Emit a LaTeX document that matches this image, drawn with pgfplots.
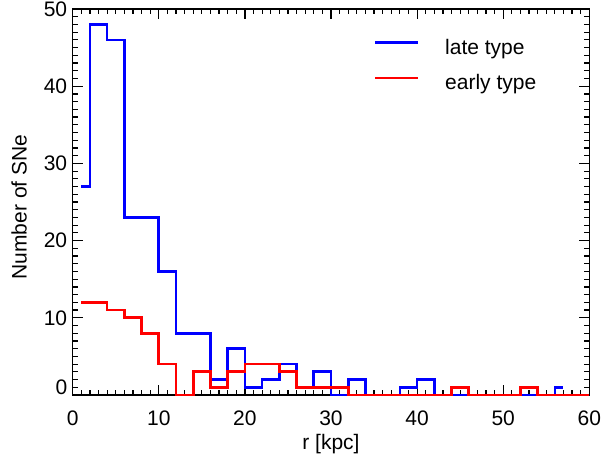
\documentclass[border=0pt]{standalone}
\usepackage{fontspec}
\setmainfont{Liberation Sans}
\usepackage{pgfplots}
\pgfplotsset{compat=1.18}
\begin{document}
\begin{tikzpicture}[font=\fontsize{21bp}{25bp}\selectfont]
\begin{axis}[
  scale only axis,
  width=516.6bp, height=386bp,
  xmin=0, xmax=60, ymin=0, ymax=50,
  xtick={0,10,...,60},
  ytick={10,20,30,40,50},
  extra y ticks={0},
  extra y tick style={yticklabel style={yshift=7.7bp}},
  minor xtick={0,1,...,60},
  minor ytick={0,1,...,50},
  major tick length=10bp,
  minor tick length=5bp,
  tick align=inside,
  tick style={line width=1.2bp, black},
  axis line style={line width=1.5bp},
  /pgf/number format/assume math mode=true,
  tick label style={font=\fontsize{21bp}{25bp}\selectfont},
  xticklabel style={anchor=base, yshift=-30bp},
  yticklabel style={xshift=-2bp},
  xlabel={r [kpc]},
  ylabel={Number of SNe},
  xlabel style={at={(axis description cs:0.5,-0.14)}, anchor=base},
  ylabel style={at={(axis description cs:-0.089,0.487)}, anchor=base},
  clip=false,
  legend cell align=left,
  legend image code/.code={\draw[#1] (0bp,5bp) -- (43bp,5bp);},
  legend style={draw=none, fill=none, at={(0.5832,0.922)}, anchor=north west,
    inner sep=0pt, outer sep=0pt, row sep=18.7bp,
    nodes={inner sep=0pt},
    /tikz/every odd column/.append style={column sep=25.5bp},
    font=\fontsize{21bp}{25bp}\selectfont},
]
\addplot[const plot mark mid, color={rgb,255:red,0;green,0;blue,255}, line width=2.7bp] coordinates {
(1,27)(3,48)(5,46)(7,23)(9,23)(11,16)(13,8)(15,8)(17,2)(19,6)(21,1)(23,2)(25,4)(27,1)(29,3)(31,0)(33,2)(35,0)(37,0)(39,1)(41,2)(43,0)(45,0)(47,0)(49,0)(51,0)(53,0)(55,0)(57,1)
};
\addlegendentry{late type}
\addplot[const plot mark mid, color={rgb,255:red,255;green,0;blue,0}, line width=2.7bp] coordinates {
(1,12)(3,12)(5,11)(7,10)(9,8)(11,4)(13,0)(15,3)(17,1)(19,3)(21,4)(23,4)(25,3)(27,1)(29,1)(31,1)(33,0)(35,0)(37,0)(39,0)(41,0)(43,0)(45,1)(47,0)(49,0)(51,0)(53,1)(55,0)(57,0)(59,0)(60,0)
};
\addlegendentry{early type}
\end{axis}
\pgfresetboundingbox
\path[use as bounding box] ([xshift=-72.7bp,yshift=-61bp]current axis.south west) rectangle ([xshift=13.7bp,yshift=9bp]current axis.north east);
\end{tikzpicture}
\end{document}
